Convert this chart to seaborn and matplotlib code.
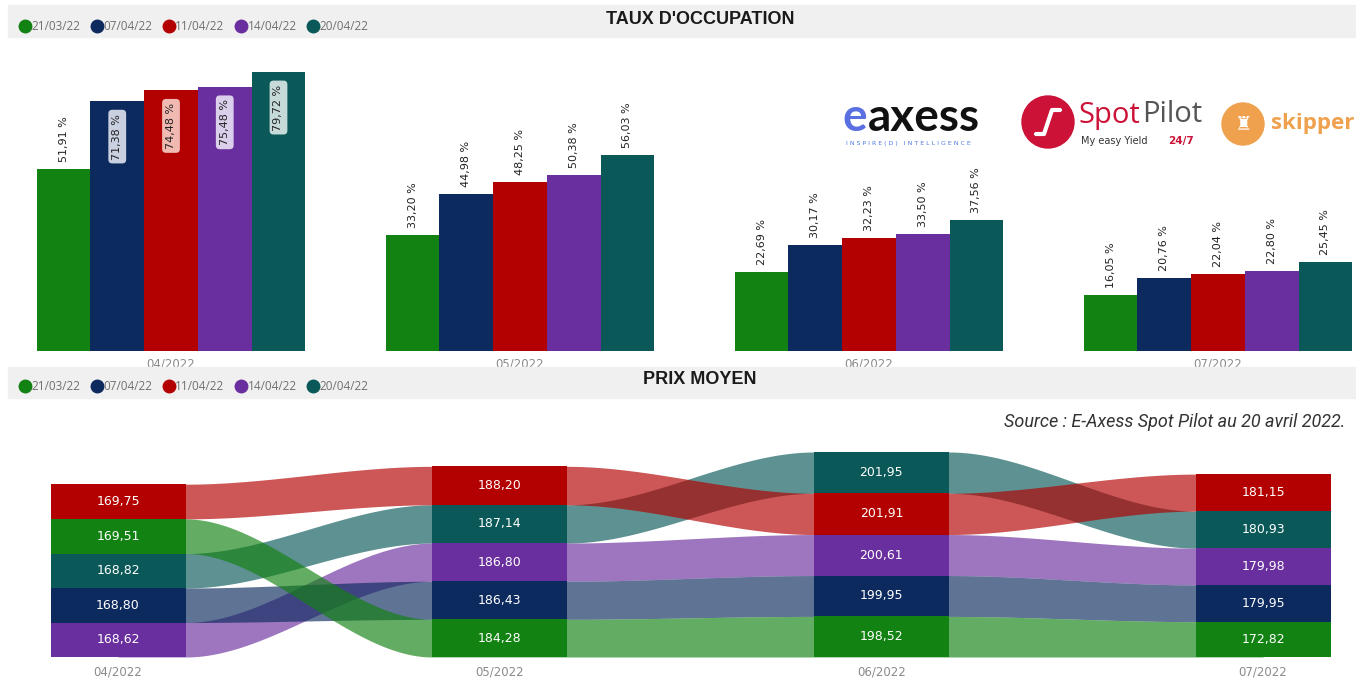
import numpy as np
import pandas as pd
import matplotlib
matplotlib.use("Agg")
import matplotlib.pyplot as plt
import seaborn as sns
from matplotlib.patches import Rectangle, Circle
from matplotlib.lines import Line2D
from matplotlib.transforms import IdentityTransform

# ---------------- data ----------------
dates = ["21/03/22", "07/04/22", "11/04/22", "14/04/22", "20/04/22"]
months = ["04/2022", "05/2022", "06/2022", "07/2022"]
colors = ["#128212", "#0d2a5f", "#b30000", "#6a2f9e", "#0a5858"]
box_tints = [None, "#c9d0e0", "#f0b9b2", "#dccfec", "#c6dada"]

# taux d'occupation (%) : one list per date, values per month
occ_2103 = [51.91, 33.20, 22.69, 16.05]
occ_0704 = [71.38, 44.98, 30.17, 20.76]
occ_1104 = [74.48, 48.25, 32.23, 22.04]
occ_1404 = [75.48, 50.38, 33.50, 22.80]
occ_2004 = [79.72, 56.03, 37.56, 25.45]

# prix moyen : one list per date, values per month
prix_2103 = [169.51, 184.28, 198.52, 172.82]
prix_0704 = [168.80, 186.43, 199.95, 179.95]
prix_1104 = [169.75, 188.20, 201.91, 181.15]
prix_1404 = [168.62, 186.80, 200.61, 179.98]
prix_2004 = [168.82, 187.14, 201.95, 180.93]

occ = [occ_2103, occ_0704, occ_1104, occ_1404, occ_2004]
prix = [prix_2103, prix_0704, prix_1104, prix_1404, prix_2004]

df_occ = pd.DataFrame({
    "mois": np.tile(months, len(dates)),
    "date": np.repeat(dates, len(months)),
    "taux": np.concatenate(occ),
})

W, H = 1356, 689
def fx(px):
    return px / W
def fy(py):
    return 1 - py / H

fr = lambda v: f"{v:.2f}".replace(".", ",")

sns.set_theme(style="white")
plt.rcParams["font.family"] = ["DejaVu Sans"]
fig = plt.figure(figsize=(W / 100, H / 100), dpi=100)
fig.patch.set_facecolor("white")

# gray header bands
for top, bot in [(5, 37), (367, 398)]:
    fig.patches.append(Rectangle((fx(8), fy(bot)), fx(W - 8), (bot - top) / H,
                                 transform=fig.transFigure, color="#f0f0f0", zorder=0))

# ---------------- top : taux d'occupation ----------------
ax1 = fig.add_axes([fx(30), fy(351), fx(1326), 301 / H])
sns.barplot(data=df_occ, x="mois", y="taux", hue="date", hue_order=dates,
            order=months, palette=colors, width=0.77, saturation=1,
            linewidth=0, legend=False, ax=ax1)
ax1.set_xlim((30 - 171) / 349, (1356 - 171) / 349)
ax1.set_ylim(0, 301 / 3.5)
for s in ax1.spines.values():
    s.set_visible(False)
ax1.set_yticks([])
ax1.set_xlabel("")
ax1.set_ylabel("")
ax1.tick_params(axis="x", length=0, pad=5, labelsize=8.5, labelcolor="#8a8a8a")

for k, cont in enumerate(ax1.containers):
    for j, bar in enumerate(cont):
        h = bar.get_height()
        xc = bar.get_x() + bar.get_width() / 2
        txt = f"{fr(h)} %"
        if j == 0 and k > 0:
            ax1.annotate(txt, (xc, h), xytext=(0, -9), textcoords="offset points",
                         rotation=90, ha="center", va="top", fontsize=8,
                         color="#222222",
                         bbox=dict(boxstyle="round,pad=0.35", fc=box_tints[k], ec="none"))
        else:
            ax1.annotate(txt, (xc, h), xytext=(0, 5), textcoords="offset points",
                         rotation=90, ha="center", va="bottom", fontsize=8,
                         color="#222222")

# ---------------- bottom : prix moyen (ribbon) ----------------
ax2 = fig.add_axes([fx(30), fy(657), fx(1326), 217 / H])
ax2.set_xlim((30 - 118) / 381.7, (1356 - 118) / 381.7)
ax2.set_ylim(0, 217 / 0.2044)
for s in ax2.spines.values():
    s.set_visible(False)
ax2.set_yticks([])
ax2.set_xticks(range(len(months)), months)
ax2.tick_params(axis="x", length=0, pad=6, labelsize=8.5, labelcolor="#8a8a8a")

colw = 135 / 381.7
vals = np.array(prix)              # series x month
bottoms = np.zeros_like(vals)
for m in range(len(months)):
    order = np.argsort(vals[:, m])     # lowest at bottom
    acc = 0.0
    for s in order:
        bottoms[s, m] = acc
        acc += vals[s, m]

# ribbons (flat under the columns, eased across the gap)
t = np.linspace(0, 1, 80)
ease = np.concatenate([[0.0], 3 * t ** 2 - 2 * t ** 3, [1.0]])
for m in range(len(months) - 1):
    xs = np.concatenate([[m], np.linspace(m + colw / 2, m + 1 - colw / 2, len(t)), [m + 1]])
    for s in [4, 2, 3, 1, 0]:
        b0, b1 = bottoms[s, m], bottoms[s, m + 1]
        t0, t1 = b0 + vals[s, m], b1 + vals[s, m + 1]
        ax2.fill_between(xs, b0 + (b1 - b0) * ease, t0 + (t1 - t0) * ease,
                         color=colors[s], alpha=0.66, linewidth=0, zorder=1)

# columns
for m in range(len(months)):
    for s in range(len(dates)):
        ax2.bar(m, vals[s, m], bottom=bottoms[s, m], width=colw,
                color=colors[s], linewidth=0, zorder=2)
        ax2.text(m, bottoms[s, m] + vals[s, m] / 2, fr(vals[s, m]),
                 ha="center", va="center", color="white", fontsize=9, zorder=3)

# ---------------- titles, legends, source ----------------
fig.text(fx(700), fy(20), "TAUX D'OCCUPATION", ha="center", va="center",
         fontsize=13, fontweight="bold", family="Liberation Sans", color="#1a1a1a")
fig.text(fx(700), fy(379), "PRIX MOYEN", ha="center", va="center",
         fontsize=13, fontweight="bold", family="Liberation Sans", color="#1a1a1a")

handles = [Line2D([], [], marker="o", ls="", color=c, markersize=9) for c in colors]
for ly in (27, 387):
    fig.legend(handles, dates, loc="center left", bbox_to_anchor=(fx(20), fy(ly)),
               ncol=5, frameon=False, handletextpad=0.15, columnspacing=1.0,
               labelcolor="#707070", handlelength=0.8, borderaxespad=0,
               borderpad=0, prop={"family": "Open Sans", "size": 8.5})

fig.text(fx(1345), fy(422), "Source : E-Axess Spot Pilot au 20 avril 2022.",
         ha="right", va="center", fontsize=13, style="italic",
         family="Roboto", color="#333333")

# ---------------- logos (text approximations) ----------------
fig.text(fx(842), fy(118), "e", ha="left", va="center", fontsize=33,
         fontweight="bold", family="Lato", color="#5a6fe0")
fig.text(fx(868), fy(118), "axess", ha="left", va="center", fontsize=33,
         fontweight="bold", family="Lato", color="#111111")
fig.text(fx(846), fy(143), "I N S P I R E ( D )   I N T E L L I G E N C E", ha="left",
         va="center", fontsize=4.5, family="DejaVu Sans", color="#4f7be0")

tr = IdentityTransform()
fig.patches.append(Circle((1048, H - 122), 26, transform=tr, color="#cc1236", zorder=5))
fig.lines.append(Line2D([1036, 1044, 1052, 1060], [H - 134, H - 134, H - 110, H - 110],
                        transform=tr, color="white", lw=3, zorder=6))
sp = fig.text(fx(1079), fy(115), "Spot", ha="left", va="center", fontsize=21,
              family="Open Sans", color="#cc1236")
renderer = fig.canvas.get_renderer()
x_end = sp.get_window_extent(renderer=renderer).x1
fig.text(x_end / W + 0.001, fy(115), "Pilot", ha="left", va="center", fontsize=21,
         family="Open Sans", color="#555555")
fig.text(fx(1081), fy(141), "My easy Yield", ha="left", va="center", fontsize=7,
         family="DejaVu Sans", color="#333333")
fig.text(fx(1168), fy(141), "24/7", ha="left", va="center", fontsize=7.5,
         fontweight="bold", family="DejaVu Sans", color="#cc1236")

fig.patches.append(Circle((1243, H - 124), 21, transform=tr, color="#f0a14e", zorder=5))
fig.text(fx(1243), fy(124), "♜", ha="center", va="center", fontsize=14,
         family="DejaVu Sans", color="white", zorder=6)
fig.text(fx(1271), fy(124), "skipper", ha="left", va="center", fontsize=16,
         fontweight="bold", family="Open Sans", color="#f0a14e")

fig.savefig("out.png", dpi=100)
